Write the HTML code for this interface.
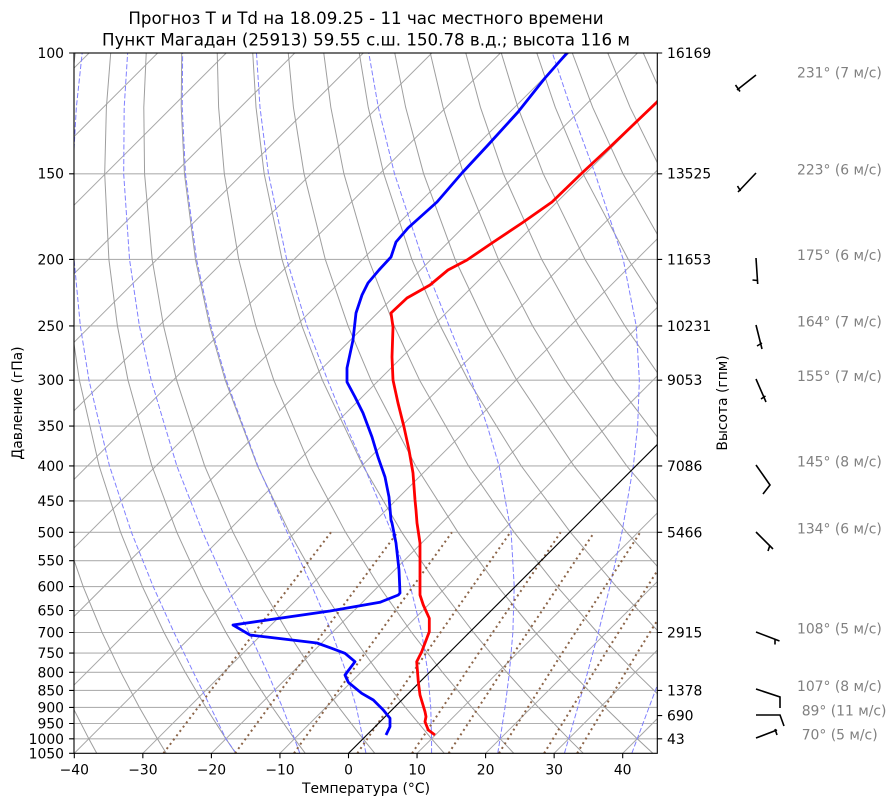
<!DOCTYPE html>
<html>
<head>
<meta charset="utf-8">
<style>
html,body{margin:0;padding:0;background:#fff;}
svg{display:block;}
text{font-family:"DejaVu Sans","Liberation Sans",sans-serif;}
</style>
</head>
<body>
<svg xmlns="http://www.w3.org/2000/svg" width="896" height="806" viewBox="0 0 896 806">
<defs>
<clipPath id="clip"><rect x="74" y="53" width="583.3" height="700.3"/></clipPath>
</defs>
<rect x="0" y="0" width="896" height="806" fill="#fff"/>
<g clip-path="url(#clip)" fill="none">
<!-- horizontal grid -->
<g stroke="#b0b0b0" stroke-width="1.1">
<path d="M74,53H658M74,173.8H658M74,259.4H658M74,325.9H658M74,380.2H658M74,426.1H658M74,465.9H658M74,500.9H658M74,532.3H658M74,560.7H658M74,586.6H658M74,610.5H658M74,632.5H658M74,653.1H658M74,672.3H658M74,690.4H658M74,707.4H658M74,723.5H658M74,738.8H658"/>
</g>
<!-- isotherms -->
<path stroke="#a8a8a8" stroke-width="1" d="M-611.2,753.3l700.3,-700.3M-542.65,753.3l700.3,-700.3M-474.1,753.3l700.3,-700.3M-405.55,753.3l700.3,-700.3M-337,753.3l700.3,-700.3M-268.45,753.3l700.3,-700.3M-199.9,753.3l700.3,-700.3M-131.35,753.3l700.3,-700.3M-62.8,753.3l700.3,-700.3M5.75,753.3l700.3,-700.3M74.3,753.3l700.3,-700.3M142.85,753.3l700.3,-700.3M211.4,753.3l700.3,-700.3M279.95,753.3l700.3,-700.3M417.05,753.3l700.3,-700.3M485.6,753.3l700.3,-700.3M554.15,753.3l700.3,-700.3M622.7,753.3l700.3,-700.3"/>
<!-- dry adiabats -->
<g stroke="#9e9e9e" stroke-width="1">
<polyline points="96.74,753.3 88.83,738.8 72.82,707.4 56.58,672.3"/>
<polyline points="166.25,753.3 157.38,738.8 139.34,707.4 120.90,672.3 102.12,632.5 83.18,586.6 64.37,532.3"/>
<polyline points="235.76,753.3 225.93,738.8 205.86,707.4 185.21,672.3 164.03,632.5 142.43,586.6 120.60,532.3 99.13,465.9 79.41,380.2 71.30,325.9 65.60,259.4 64.84,173.8 68.99,107.3 75.21,53"/>
<polyline points="305.27,753.3 294.48,738.8 272.40,707.4 249.53,672.3 225.94,632.5 201.67,586.6 176.84,532.3 151.89,465.9 128.01,380.2 117.42,325.9 108.89,259.4 104.70,173.8 106.39,107.3 110.71,53"/>
<polyline points="374.78,753.3 363.03,738.8 338.89,707.4 313.85,672.3 287.85,632.5 260.91,586.6 233.07,532.3 204.66,465.9 176.61,380.2 163.55,325.9 152.17,259.4 144.57,173.8 143.80,107.3 146.22,53"/>
<polyline points="444.29,753.3 431.58,738.8 405.41,707.4 378.17,672.3 349.76,632.5 320.15,586.6 289.30,532.3 257.42,465.9 225.21,380.2 209.68,325.9 195.45,259.4 184.44,173.8 181.21,107.3 181.73,53"/>
<polyline points="513.80,753.3 500.13,738.8 471.93,707.4 442.48,672.3 411.67,632.5 379.39,586.6 345.53,532.3 310.18,465.9 273.81,380.2 255.81,325.9 238.73,259.4 224.31,173.8 218.61,107.3 217.24,53"/>
<polyline points="583.32,753.3 568.68,738.8 538.45,707.4 506.80,672.3 473.58,632.5 438.63,586.6 401.77,532.3 362.94,465.9 322.40,380.2 301.94,325.9 282.01,259.4 264.17,173.8 256.02,107.3 252.74,53"/>
<polyline points="652.83,753.3 637.23,738.8 604.96,707.4 571.11,672.3 535.48,632.5 497.87,586.6 458.00,532.3 415.70,465.9 371.00,380.2 348.07,325.9 325.29,259.4 304.04,173.8 293.42,107.3 288.25,53"/>
<polyline points="722.34,753.3 705.78,738.8 671.48,707.4 635.43,672.3 597.39,632.5 557.11,586.6 514.24,532.3 468.46,465.9 419.60,380.2 394.20,325.9 368.57,259.4 343.91,173.8 330.83,107.3 323.76,53"/>
<polyline points="791.85,753.3 774.33,738.8 738.00,707.4 699.75,672.3 659.30,632.5 616.35,586.6 570.47,532.3 521.22,465.9 468.19,380.2 440.33,325.9 411.85,259.4 383.77,173.8 368.23,107.3 359.26,53"/>
<polyline points="861.37,753.3 842.88,738.8 804.51,707.4 764.06,672.3 721.21,632.5 675.59,586.6 626.71,532.3 573.98,465.9 516.79,380.2 486.46,325.9 455.14,259.4 423.64,173.8 405.64,107.3 394.77,53"/>
<polyline points="930.88,753.3 911.43,738.8 871.03,707.4 828.38,672.3 783.12,632.5 734.83,586.6 682.94,532.3 626.74,465.9 565.39,380.2 532.59,325.9 498.42,259.4 463.51,173.8 443.05,107.3 430.28,53"/>
<polyline points="794.07,586.6 739.17,532.3 679.50,465.9 613.98,380.2 578.72,325.9 541.70,259.4 503.37,173.8 480.45,107.3 465.78,53"/>
<polyline points="795.41,532.3 732.26,465.9 662.58,380.2 624.85,325.9 584.98,259.4 543.24,173.8 517.86,107.3 501.29,53"/>
<polyline points="785.02,465.9 711.18,380.2 670.98,325.9 628.26,259.4 583.11,173.8 555.26,107.3 536.79,53"/>
<polyline points="759.78,380.2 717.11,325.9 671.54,259.4 622.98,173.8 592.67,107.3 572.30,53"/>
<polyline points="763.24,325.9 714.82,259.4 662.84,173.8 630.08,107.3 607.80,53"/>
<polyline points="758.10,259.4 702.71,173.8 667.48,107.3 643.31,53"/>
</g>
<!-- moist adiabats -->
<g stroke="#8080ff" stroke-width="1" stroke-dasharray="5.1 2.2">
<polyline points="236.01,753.3 225.93,738.8 210.70,707.4 193.40,672.3 174.02,632.5 153.23,586.6 131.44,532.3 109.47,465.9 88.96,380.2 80.34,325.9 74.06,259.4 72.61,173.8 76.35,107.3 82.18,53"/>
<polyline points="299.83,753.3 294.48,738.8 282.47,707.4 267.39,672.3 248.99,632.5 227.17,586.6 202.71,532.3 176.85,465.9 151.17,380.2 139.39,325.9 129.54,259.4 123.68,173.8 124.19,107.3 127.64,53"/>
<polyline points="365.98,753.3 363.03,738.8 356.37,707.4 346.16,672.3 331.80,632.5 312.09,586.6 287.21,532.3 257.84,465.9 226.31,380.2 210.90,325.9 196.57,259.4 185.47,173.8 182.21,107.3 182.64,53"/>
<polyline points="431.58,753.3 431.58,738.8 430.74,707.4 427.84,672.3 421.69,632.5 410.42,586.6 391.72,532.3 363.86,465.9 346.32,426.1 327.65,380.2 306.90,325.9 286.70,259.4 268.46,173.8 259.99,107.3 256.50,53"/>
<polyline points="497.73,753.3 500.13,738.8 504.98,707.4 509.42,672.3 512.86,632.5 514.21,586.6 511.13,532.3 499.10,465.9 487.32,426.1 471.20,380.2 449.07,325.9 422.71,259.4 394.53,173.8 378.31,107.3 368.78,53"/>
<polyline points="564.43,753.3 568.68,738.8 577.78,707.4 587.63,672.3 598.34,632.5 609.91,586.6 621.98,532.3 633.33,465.9 637.65,426.1 639.35,380.2 636.22,325.9 623.22,259.4 595.17,173.8 570.60,107.3 552.36,53"/>
<polyline points="631.82,753.3 637.23,738.8 649.01,707.4 662.22,672.3"/>
</g>
<!-- mixing ratio lines -->
<g stroke="#8b6448" stroke-width="2" stroke-dasharray="2 3.4">
<polyline points="163.43,753.3 238.93,653.1 330.98,532.3"/>
<polyline points="235.08,753.3 308.16,653.1 397.46,532.3"/>
<polyline points="293.98,753.3 364.98,653.1 451.92,532.3"/>
<polyline points="357.36,753.3 426.05,653.1 510.37,532.3"/>
<polyline points="412.06,753.3 478.68,653.1 560.66,532.3"/>
<polyline points="448.64,753.3 513.84,653.1 594.21,532.3"/>
<polyline points="498.91,753.3 562.12,653.1 640.24,532.3"/>
<polyline points="544.12,753.3 605.49,653.1 681.54,532.3"/>
<polyline points="577.16,753.3 637.15,653.1 711.66,532.3"/>
</g>
</g>
<g clip-path="url(#clip)" fill="none" stroke-linejoin="round" stroke-linecap="butt">
<line x1="348.5" y1="753.3" x2="660" y2="441.8" stroke="#000" stroke-width="1.1"/>
<polyline stroke="#ff0000" stroke-width="2.8" points="662,96 657,102 633,125 610,147 582,173 552,202 522,223 492,243 467,260 448,270 430,285 407,298 391,313 393,327 392,357 393,380 398,403 404,427 409,450 413,473 415,500 416,510 417,523 420,543 420,577 420,595 423.3,605 429.3,618.3 429.3,631.7 421.7,651.7 416.7,661.7 418.3,681.7 420,695 425,711.7 426,716.7 425,721.7 428.3,730 435,735"/>
<polyline stroke="#0000ff" stroke-width="2.8" points="570,50 567,53 545,78 518,112 488,145 462,173 437,202 408,228 396,242 391,257 379,270 368,283 362,295 356,313 353,340 347,368 347,382 355,397 363,413 372,437 378,457 385,477 389,497 391,520 392,523 396,543 399,570 400,593 398.3,595 380,602.3 330,611 233,625 250,635 317,643 330,647.7 345,653.3 355,661.7 345,675 348.3,682.3 361.7,693.3 373.3,700 383.3,710 390,718.3 390,726.7 386,735"/>
</g>
<!-- spines -->
<rect x="74" y="53" width="583.3" height="700.3" fill="none" stroke="#000" stroke-width="1.1"/>
<!-- ticks -->
<g stroke="#000" stroke-width="1.1">
<path d="M69.1,53H74M69.1,173.8H74M69.1,259.4H74M69.1,325.9H74M69.1,380.2H74M69.1,426.1H74M69.1,465.9H74M69.1,500.9H74M69.1,532.3H74M69.1,560.7H74M69.1,586.6H74M69.1,610.5H74M69.1,632.5H74M69.1,653.1H74M69.1,672.3H74M69.1,690.4H74M69.1,707.4H74M69.1,723.5H74M69.1,738.8H74M69.1,753.3H74"/>
<path d="M657.3,53H662.2M657.3,173.8H662.2M657.3,259.4H662.2M657.3,325.9H662.2M657.3,380.2H662.2M657.3,465.9H662.2M657.3,532.3H662.2M657.3,632.5H662.2M657.3,690.4H662.2M657.3,715.6H662.2M657.3,738.8H662.2"/>
<path d="M74.3,753.3V758.2M142.85,753.3V758.2M211.4,753.3V758.2M279.95,753.3V758.2M348.5,753.3V758.2M417.05,753.3V758.2M485.6,753.3V758.2M554.15,753.3V758.2M622.7,753.3V758.2"/>
</g>
<!-- left tick labels -->
<g font-size="13.9" text-anchor="end" fill="#000">
<text x="64" y="58">100</text>
<text x="64" y="178.7">150</text>
<text x="64" y="264.4">200</text>
<text x="64" y="330.9">250</text>
<text x="64" y="385.2">300</text>
<text x="64" y="431.1">350</text>
<text x="64" y="470.9">400</text>
<text x="64" y="505.9">450</text>
<text x="64" y="537.3">500</text>
<text x="64" y="565.7">550</text>
<text x="64" y="591.6">600</text>
<text x="64" y="615.5">650</text>
<text x="64" y="637.5">700</text>
<text x="64" y="658.1">750</text>
<text x="64" y="677.3">800</text>
<text x="64" y="695.4">850</text>
<text x="64" y="712.4">900</text>
<text x="64" y="728.5">950</text>
<text x="64" y="743.8">1000</text>
<text x="64" y="758.3">1050</text>
</g>
<!-- right tick labels -->
<g font-size="13.9" text-anchor="start" fill="#000">
<text x="667" y="58">16169</text>
<text x="667" y="178.7">13525</text>
<text x="667" y="264.4">11653</text>
<text x="667" y="330.9">10231</text>
<text x="667" y="385.2">9053</text>
<text x="667" y="470.9">7086</text>
<text x="667" y="537.3">5466</text>
<text x="667" y="637.5">2915</text>
<text x="667" y="695.4">1378</text>
<text x="667" y="720.6">690</text>
<text x="667" y="743.8">43</text>
</g>
<!-- bottom tick labels -->
<g font-size="13.9" text-anchor="middle" fill="#000">
<text x="74.3" y="774.5">−40</text>
<text x="142.9" y="774.5">−30</text>
<text x="211.4" y="774.5">−20</text>
<text x="280" y="774.5">−10</text>
<text x="348.5" y="774.5">0</text>
<text x="417.1" y="774.5">10</text>
<text x="485.6" y="774.5">20</text>
<text x="554.2" y="774.5">30</text>
<text x="622.7" y="774.5">40</text>
</g>
<text x="366" y="793" font-size="13.9" text-anchor="middle">Температура (°C)</text>
<text transform="translate(22,403) rotate(-90)" font-size="13.9" text-anchor="middle">Давление (гПа)</text>
<text transform="translate(727,403) rotate(-90)" font-size="13.9" text-anchor="middle">Высота (гпм)</text>
<text x="366" y="24" font-size="16.67" text-anchor="middle">Прогноз T и Td на 18.09.25 - 11 час местного времени</text>
<text x="366" y="45.7" font-size="16.67" text-anchor="middle">Пункт Магадан (25913) 59.55 с.ш. 150.78 в.д.; высота 116 м</text>
<!-- wind barbs -->
<g stroke="#000" stroke-width="1.6" fill="none" stroke-linecap="butt">
<path d="M756,75 L737,90 M735.5,85 L740,91.5"/>
<path d="M756,173 L738,192 M737.5,186 L740.5,191"/>
<path d="M756,258 L757.7,284 M752.5,280 L757.5,280.5"/>
<path d="M756,325 L762,349 M757,346 L762,343"/>
<path d="M756,379 L766,402 M761,399 L765.5,396"/>
<path d="M756,465 L770,485 L763,494"/>
<path d="M756,532 L773,549 M770,545 L768,551"/>
<path d="M756,632 L779.5,641 M775,639 L775,644.5"/>
<path d="M756,689 L780,697 L780,708"/>
<path d="M756,715 L780,715 L784,726"/>
<path d="M756,738 L777,730 M775,729 L777,735"/>
</g>
<g font-size="13.9" fill="#808080">
<text x="797" y="77.7">231° (7 м/с)</text>
<text x="797" y="174.3">223° (6 м/с)</text>
<text x="797" y="260">175° (6 м/с)</text>
<text x="797" y="326.7">164° (7 м/с)</text>
<text x="797" y="381">155° (7 м/с)</text>
<text x="797" y="466.7">145° (8 м/с)</text>
<text x="797" y="533.3">134° (6 м/с)</text>
<text x="797" y="633.3">108° (5 м/с)</text>
<text x="797" y="691">107° (8 м/с)</text>
<text x="801.7" y="715.7">89° (11 м/с)</text>
<text x="801.7" y="739.3">70° (5 м/с)</text>
</g>
</svg>
</body>
</html>
